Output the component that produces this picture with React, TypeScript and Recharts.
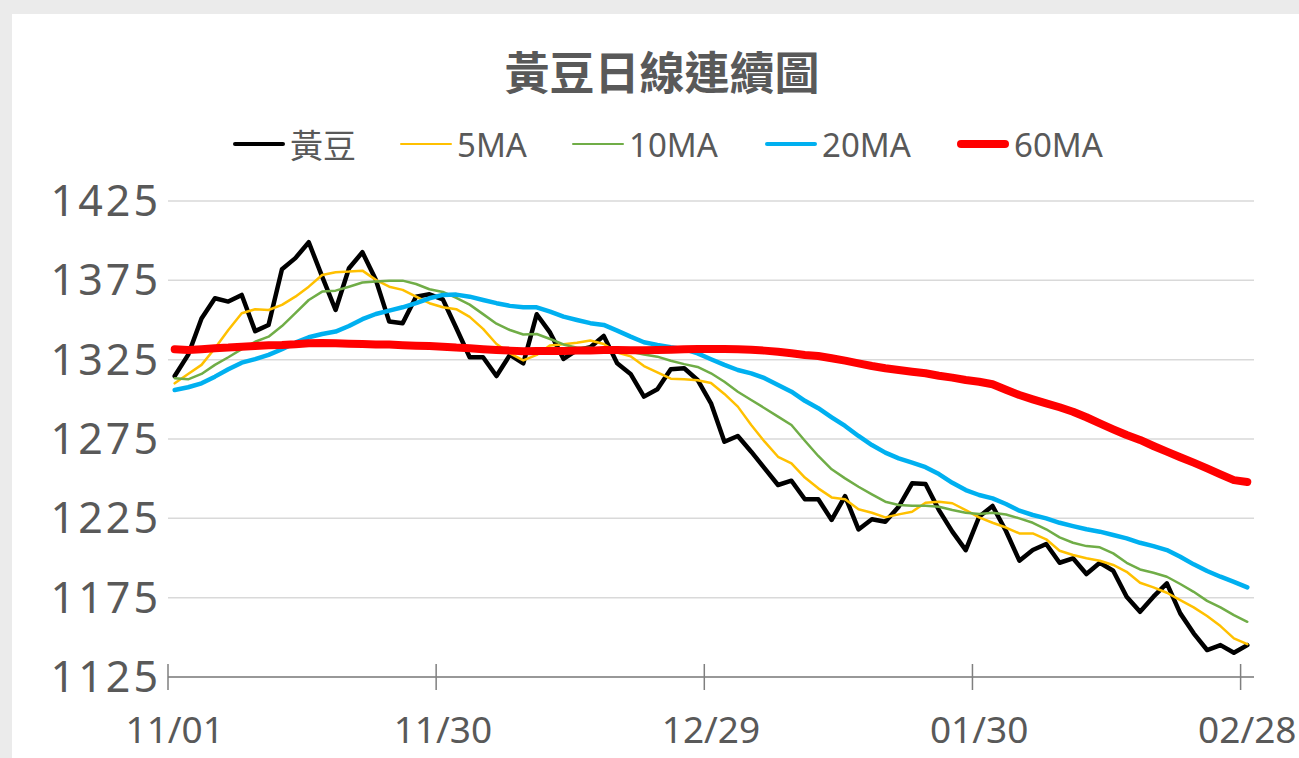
import { LineChart, Line, XAxis, YAxis, CartesianGrid } from 'recharts'

// 黃豆 daily close and moving averages
const soybean = [
    1314.7, 1328, 1351, 1363.7, 1361.6, 1365.8, 1343, 1346.9, 1382, 1389,
    1399, 1377.3, 1356.3, 1382.6, 1392.7, 1375.3, 1349, 1348, 1364.7, 1366.2,
    1363, 1345, 1326.5, 1326.5, 1314.7, 1328, 1322.7, 1353.6, 1342, 1325.5,
    1331, 1332.8, 1340, 1322.7, 1316, 1301.7, 1306.3, 1319, 1319.6, 1312.2,
    1297.5, 1273.3, 1276.9, 1267, 1256.5, 1246, 1248.7, 1237, 1237, 1224,
    1239, 1218, 1224.4, 1222.9, 1232.3, 1247.1, 1246.6, 1230.2, 1216.6, 1205,
    1226, 1232.8, 1217, 1198.3, 1205, 1208.8, 1197, 1199.8, 1189.9, 1197,
    1192, 1175.6, 1166.1, 1175.6, 1184, 1165.1, 1152.5, 1142, 1145.1, 1140.3,
    1145.1,
]

const ma5 = [
    1310.1, 1316, 1321.7, 1332.2, 1343.7, 1354.3, 1356.8, 1356.3, 1359.5, 1364.7,
    1371, 1378.4, 1380.1, 1380.5, 1381.1, 1375.3, 1371, 1369, 1364.7, 1360.6,
    1358, 1356.8, 1352, 1344.4, 1334.9, 1329, 1324.5, 1328, 1334, 1334.7,
    1335.7, 1337.1, 1334.9, 1329.5, 1327.1, 1321, 1317, 1313, 1312.6, 1312,
    1310.3, 1303.4, 1295.4, 1283.8, 1273.3, 1263.8, 1259.7, 1250.7, 1243.9, 1238.2,
    1237, 1230.7, 1228.5, 1225.6, 1227.5, 1229.2, 1234.8, 1235.5, 1234.5, 1230.2,
    1225.6, 1222.2, 1219.2, 1215.5, 1215.5, 1211.8, 1204.6, 1201.9, 1199.8, 1198.3,
    1195.6, 1191.3, 1184.4, 1181.5, 1178.1, 1173.5, 1168.9, 1163.4, 1157.1, 1149.3,
    1145.7,
]

const ma10 = [
    1313.3, 1312.6, 1316, 1321.7, 1326.5, 1331.6, 1336.3, 1339.5, 1346.2, 1354.3,
    1362.6, 1367.9, 1368.5, 1371, 1373.6, 1374.3, 1374.8, 1374.8, 1372.7, 1369.4,
    1367.7, 1363.9, 1359.7, 1353.7, 1347.7, 1343.7, 1340.9, 1341.2, 1338, 1334.6,
    1332.5, 1332.5, 1331.6, 1331.1, 1330, 1328.3, 1326.9, 1324.3, 1322.2, 1320.4,
    1316.4, 1311.1, 1304.8, 1299.6, 1294.4, 1289.1, 1283.8, 1273.9, 1264.3, 1255.9,
    1250.2, 1244.9, 1240.1, 1235.5, 1233.4, 1232.9, 1232.9, 1232.3, 1230.2, 1228.5,
    1227.7, 1228.5, 1227.4, 1225, 1222.2, 1218.1, 1213, 1209.6, 1207.5, 1206.7,
    1202.9, 1197, 1192.8, 1190.7, 1188.2, 1183.6, 1178.7, 1173, 1168.9, 1164,
    1159.8,
]

const ma20 = [
    1305.9, 1307.6, 1310.1, 1314.3, 1318.9, 1323.1, 1325.3, 1328, 1331.6, 1335.7,
    1339.1, 1341.2, 1342.7, 1346.2, 1350.5, 1353.8, 1355.9, 1358, 1360.6, 1363.7,
    1365.8, 1366, 1364.7, 1362.6, 1360.6, 1358.9, 1358, 1358, 1355.3, 1352.1,
    1350, 1348, 1346.9, 1343.3, 1339.5, 1336, 1334.3, 1332.8, 1331.6, 1329,
    1325.3, 1321.7, 1318.5, 1316.4, 1313.3, 1309, 1304.8, 1299.1, 1294.4, 1288.7,
    1283.2, 1276.9, 1271.2, 1266.4, 1262.8, 1260.1, 1257.2, 1252.9, 1247.4, 1242.8,
    1239.7, 1237.6, 1234, 1229.8, 1227.1, 1225, 1222.2, 1220.1, 1218.1, 1216.6,
    1214.5, 1212.4, 1209.6, 1207.5, 1205, 1200.8, 1196, 1191.8, 1188.2, 1185,
    1181.5,
]

const ma60 = [
    1331.6, 1331.1, 1331.6, 1332.2, 1332.6, 1333.2, 1333.6, 1334.1, 1334.3, 1334.7,
    1335.3, 1335.5, 1335.3, 1335.1, 1334.9, 1334.6, 1334.5, 1334.1, 1333.8, 1333.6,
    1333.2, 1332.6, 1332.2, 1331.6, 1331.1, 1330.7, 1330.3, 1330.5, 1330.5, 1330.5,
    1330.7, 1330.7, 1331.1, 1331.1, 1330.9, 1330.9, 1331.1, 1331.3, 1331.6, 1331.7,
    1331.7, 1331.7, 1331.6, 1331.3, 1330.7, 1330, 1329, 1328, 1327.3, 1325.9,
    1324.4, 1322.7, 1321, 1319.6, 1318.5, 1317.4, 1316.4, 1314.9, 1313.7, 1312.2,
    1311.1, 1309.5, 1306, 1302.7, 1300, 1297.5, 1295, 1292.2, 1288.7, 1284.9,
    1281.1, 1277.5, 1274.4, 1270.6, 1267, 1263.5, 1260.1, 1256.5, 1252.7, 1249.1,
    1247.9,
]

const tickIndexes = [0, 20, 40, 60, 80]
const tickLabels = ['11/01', '11/30', '12/29', '01/30', '02/28']
const yTicks = [1125, 1175, 1225, 1275, 1325, 1375, 1425]

const data = soybean.map((v, i) => ({
    idx: i,
    soybean: v,
    ma5: ma5[i],
    ma10: ma10[i],
    ma20: ma20[i],
    ma60: ma60[i],
}))

const FONT = "'Noto Sans CJK TC', 'Noto Sans', sans-serif"
const LATIN_FONT = "'Noto Sans', 'Noto Sans CJK TC', sans-serif"
const TEXT = '#595959'
const HALF_STEP = 6.7

const series = [
    { key: 'soybean', name: '黃豆', color: '#000000', width: 4.5, legendX: 233 },
    { key: 'ma5', name: '5MA', color: '#FFC000', width: 2.5, legendX: 400 },
    { key: 'ma10', name: '10MA', color: '#70AD47', width: 2.5, legendX: 572 },
    { key: 'ma20', name: '20MA', color: '#00B0F0', width: 4.5, legendX: 765 },
    { key: 'ma60', name: '60MA', color: '#FF0000', width: 8, legendX: 957 },
]

const DateTick = ({ x, y, payload }: any) => {
    const label = tickLabels[tickIndexes.indexOf(payload.value)]
    return (
        <g>
            <line x1={x - HALF_STEP} x2={x - HALF_STEP} y1={y - 13} y2={y + 13} stroke="#7f7f7f" strokeWidth={1.5} />
            <text x={x} y={y + 66} textAnchor="middle" fill={TEXT} fontSize={37} fontFamily={LATIN_FONT}>
                {label}
            </text>
        </g>
    )
}

const ValueTick = ({ x, y, payload }: any) => (
    <text x={x + 3} y={y} dy="0.35em" textAnchor="end" fill={TEXT} fontSize={43} letterSpacing={3} fontFamily={LATIN_FONT}>
        {payload.value}
    </text>
)

export default function App() {
    return (
        <div style={{ position: 'fixed', left: 0, top: 0, width: 1299, height: 758, background: '#ebebeb', overflow: 'hidden' }}>
            <div style={{ position: 'absolute', left: 12, top: 14, width: 1300, height: 760, background: '#ffffff' }} />
            <div
                style={{
                    position: 'absolute', left: 0, width: 1324, top: 41, textAlign: 'center',
                    fontFamily: FONT, fontWeight: 700, fontSize: 45, lineHeight: '60px', color: TEXT,
                }}
            >
                黃豆日線連續圖
            </div>
            {series.map((s) => (
                <div key={s.key} style={{ position: 'absolute', left: s.legendX, top: 124, height: 40, display: 'flex', alignItems: 'center' }}>
                    <div style={{ width: 52, height: s.width, background: s.color, borderRadius: s.width / 2 }} />
                    <span style={{ marginLeft: 5, fontFamily: LATIN_FONT, fontSize: 33, color: TEXT }}>{s.name}</span>
                </div>
            ))}
            <div style={{ position: 'absolute', left: 0, top: 0 }}>
                <LineChart width={1299} height={758} data={data} margin={{ top: 201, right: 45, bottom: 21, left: 18 }}>
                    <CartesianGrid vertical={false} stroke="#d9d9d9" strokeWidth={1.5} />
                    <XAxis
                        dataKey="idx"
                        ticks={tickIndexes}
                        interval={0}
                        height={60}
                        padding={{ left: HALF_STEP, right: HALF_STEP }}
                        tickSize={0}
                        tickMargin={0}
                        tickLine={false}
                        axisLine={{ stroke: '#7f7f7f', strokeWidth: 1.5 }}
                        tick={<DateTick />}
                    />
                    <YAxis
                        width={150}
                        domain={[1125, 1425]}
                        ticks={yTicks}
                        interval={0}
                        axisLine={false}
                        tickLine={false}
                        tickSize={0}
                        tickMargin={10}
                        tick={<ValueTick />}
                    />
                    {series.map((s) => (
                        <Line
                            key={s.key}
                            dataKey={s.key}
                            name={s.name}
                            stroke={s.color}
                            strokeWidth={s.width}
                            strokeLinejoin="round"
                            strokeLinecap="round"
                            dot={false}
                            activeDot={false}
                            isAnimationActive={false}
                        />
                    ))}
                </LineChart>
            </div>
        </div>
    )
}
